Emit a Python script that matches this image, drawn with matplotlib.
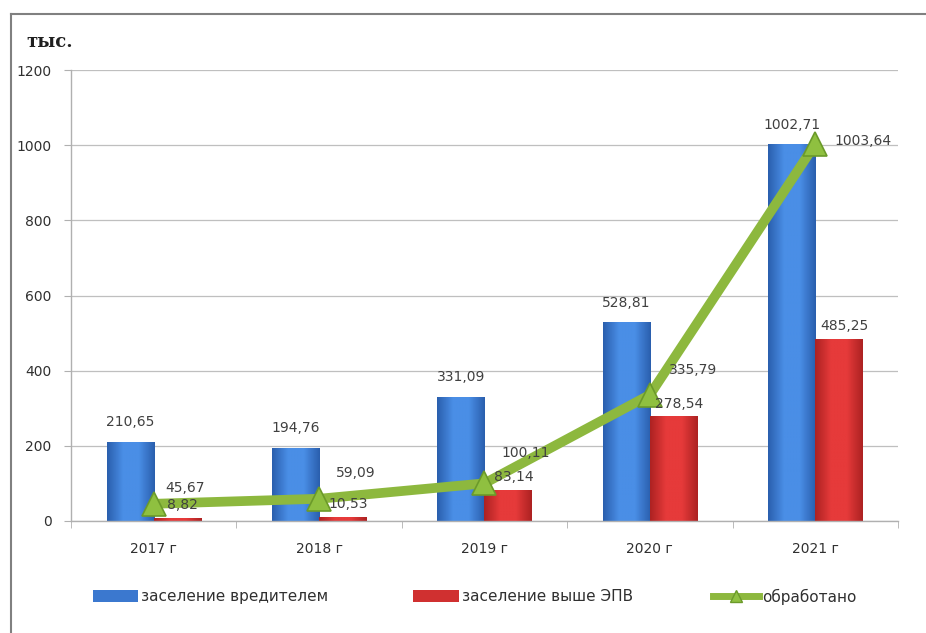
import numpy as np
import matplotlib.pyplot as plt
from matplotlib import font_manager
from matplotlib.lines import Line2D
from matplotlib.patches import Patch

# Площади по годам, тыс. га
years = ["2017 г", "2018 г", "2019 г", "2020 г", "2021 г"]
infested = [210.65, 194.76, 331.09, 528.81, 1002.71]
above_threshold = [8.82, 10.53, 83.14, 278.54, 485.25]
treated = [45.67, 59.09, 100.11, 335.79, 1003.64]
legend_labels = ["заселение вредителем", "заселение выше ЭПВ", "обработано"]


def fmt(v):
    return f"{v:.2f}".replace(".", ",")


def gradient_bars(ax, bars, dark, light):
    # горизонтальный градиент внутри каждого столбика
    cmap = plt.matplotlib.colors.LinearSegmentedColormap.from_list(
        "g", [dark, light, light, dark])
    grad = np.linspace(0, 1, 64).reshape(1, -1)
    for b in bars:
        x0, y0 = b.get_x(), b.get_y()
        w, h = b.get_width(), b.get_height()
        im = ax.imshow(grad, cmap=cmap, aspect="auto", zorder=2,
                       extent=(x0, x0 + w, y0, y0 + h))
        im.set_clip_path(b)
        b.set_facecolor("none")


installed = {f.name for f in font_manager.fontManager.ttflist}
narrow = "Liberation Sans Narrow" if "Liberation Sans Narrow" in installed else "DejaVu Sans"

fig = plt.figure(figsize=(9.26, 6.33), dpi=100)
ax = fig.add_axes([0.0767, 0.177, 0.893, 0.712])

x = np.arange(len(years))
w = 0.285
blue = ax.bar(x - w / 2, infested, w, color="#3b78cf", zorder=2, linewidth=0)
red = ax.bar(x + w / 2, above_threshold, w, color="#d03030", zorder=2, linewidth=0)
gradient_bars(ax, blue, "#2a5fae", "#4a8ee6")
gradient_bars(ax, red, "#ad2222", "#e63a3a")

ax.plot(x, treated, color="#8db83e", linewidth=7, marker="^", markersize=17,
        markerfacecolor="#8fc040", markeredgecolor="#6b9a2a",
        markeredgewidth=1.2, zorder=4, solid_capstyle="round")

ax.set_xlim(-0.5, len(years) - 0.5)
ax.set_ylim(0, 1200)
ax.set_yticks(range(0, 1201, 200))
ax.yaxis.grid(True, color="#bfbfbf", linewidth=0.9)
ax.set_axisbelow(True)

for s in ["top", "right"]:
    ax.spines[s].set_visible(False)
for s in ["left", "bottom"]:
    ax.spines[s].set_color("#b0b0b0")
    ax.spines[s].set_linewidth(1.0)

ax.set_xticks(x)
ax.set_xticklabels(years)
ax.set_xticks(np.arange(-0.5, len(years)), minor=True)
ax.tick_params(axis="x", which="major", length=0, pad=15, labelsize=10,
               labelcolor="#303030")
ax.tick_params(axis="x", which="minor", length=5, color="#b0b0b0")
ax.tick_params(axis="y", length=5, color="#b0b0b0", pad=9, labelsize=10,
               labelcolor="#303030")

text_color = "#404040"
for xi, v in zip(x, infested):
    ax.annotate(fmt(v), (xi - w / 2, v), xytext=(0, 9),
                textcoords="offset points", ha="center", va="bottom",
                fontsize=10, color=text_color, zorder=5)
for xi, v in zip(x, above_threshold):
    ax.annotate(fmt(v), (xi + w / 2, v), xytext=(4, 4),
                textcoords="offset points", ha="center", va="bottom",
                fontsize=10, color=text_color, zorder=5)
line_offsets = [(8, 6.5), (12, 13.5), (12, 17), (14, 12.5), (14, 2)]
for xi, v, off in zip(x, treated, line_offsets):
    ax.annotate(fmt(v), (xi, v), xytext=off, textcoords="offset points",
                ha="left", va="bottom" if off[1] > 3 else "center",
                fontsize=10, color=text_color, zorder=5)

fig.text(0.028, 0.933, "тыс.", fontsize=13, fontweight="bold",
         family="DejaVu Serif", color="#202020", va="center")

handles = [
    Patch(facecolor="#3b78cf"),
    Patch(facecolor="#d03030"),
    Line2D([], [], color="#8db83e", linewidth=5, marker="^", markersize=9,
           markerfacecolor="#8fc040", markeredgecolor="#6b9a2a"),
]
# легенда: три отдельных элемента под диаграммой
for h, lab, xpos in zip(handles, legend_labels, [0.100, 0.446, 0.770]):
    fig.legend([h], [lab], loc="center left", bbox_to_anchor=(xpos, 0.057),
               frameon=False, handlelength=3.0, handleheight=0.9,
               handletextpad=0.2, borderpad=0, borderaxespad=0,
               labelcolor="#303030",
               prop={"family": narrow, "size": 11})

# рамка вокруг диаграммы
fig.add_artist(Line2D([0.012, 0.012], [0, 0.978], color="#808080",
                      linewidth=1.5, transform=fig.transFigure))
fig.add_artist(Line2D([0.012, 1.0], [0.978, 0.978], color="#808080",
                      linewidth=1.5, transform=fig.transFigure))

fig.savefig("out.png", dpi=100)
